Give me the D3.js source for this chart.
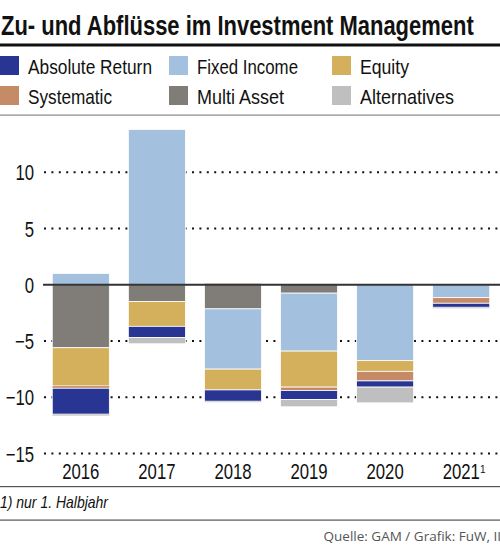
<!DOCTYPE html>
<html><head><meta charset="utf-8">
<script src="https://cdn.jsdelivr.net/npm/d3@7"></script>
<style>
body{margin:0;background:#fff;}
svg{display:block;}
</style></head>
<body><svg id="c" width="500" height="545"></svg>
<script>
const years = ["2016","2017","2018","2019","2020","2021"];
const seriesNames = ["Absolute Return","Fixed Income","Equity","Systematic","Multi Asset","Alternatives"];
const absoluteReturn = [-2.3, -1.0, -1.0, -0.8, -0.55, -0.35];
const fixedIncome   = [1.0, 13.8, -5.35, -5.15, -6.75, -1.15];
const equity        = [-3.4, -2.2, -1.85, -3.2, -0.95, 0];
const systematic    = [-0.2, 0, 0.1, -0.3, -0.85, -0.5];
const multiAsset    = [-5.6, -1.5, -2.15, -0.75, 0, 0];
const alternatives  = [-0.15, -0.55, -0.1, -0.65, -1.4, -0.1];
const yTicks = [-15, -10, -5, 0, 5, 10];
const colors = {"Absolute Return":"#283593","Fixed Income":"#a3c0de","Equity":"#d5b05c","Systematic":"#c58b67","Multi Asset":"#807d79","Alternatives":"#c0bfc0"};
const stackOrder = ["Multi Asset","Fixed Income","Equity","Systematic","Absolute Return","Alternatives"];

const valuesBy = {"Absolute Return":absoluteReturn,"Fixed Income":fixedIncome,"Equity":equity,"Systematic":systematic,"Multi Asset":multiAsset,"Alternatives":alternatives};
const table = years.map((y,i)=>{const o={year:y}; seriesNames.forEach(s=>o[s]=valuesBy[s][i]); return o;});

const svg = d3.select("#c");
const F = "'Liberation Sans',Arial,sans-serif";

function fit(sel, w){ sel.attr("textLength",w).attr("lengthAdjust","spacingAndGlyphs"); return sel; }

// title (horizontally scaled to the condensed width of the original)
const tg = svg.append("g");
const title = tg.append("text").attr("x",0).attr("y",35).attr("font-family",F)
  .attr("font-size",28).attr("font-weight","bold").attr("fill","#111")
  .text("Zu- und Abflüsse im Investment Management");
const tL = title.node().getComputedTextLength();
tg.attr("transform",`translate(1,0) scale(${473/tL},1)`);

svg.append("rect").attr("x",0).attr("y",43.5).attr("width",500).attr("height",3).attr("fill","#111");
svg.append("rect").attr("x",0).attr("y",114.5).attr("width",500).attr("height",1.2).attr("fill","#888");

// legend
const legendPos = [[0,56],[169,56],[332,56],[0,86],[169,86],[332,86]];
const legendWidths = [124,101,49,84,87,94];
seriesNames.forEach((s,i)=>{
  const [lx,ly]=legendPos[i];
  svg.append("rect").attr("x",lx).attr("y",ly).attr("width",19).attr("height",19).attr("fill",colors[s]);
  fit(svg.append("text").attr("x",lx+28).attr("y",ly+18).attr("font-family",F)
    .attr("font-size",21).attr("fill","#111").text(s), legendWidths[i]);
});

// scales
const x = d3.scaleBand().domain(years).range([42,500]).paddingInner(0.25).paddingOuter(0.135);
const y = d3.scaleLinear().domain([-15,15]).range([453.5,115.9]);

// grid
const grid = svg.append("g");
yTicks.filter(t=>t!==0).forEach(t=>{
  grid.append("line").attr("x1",44).attr("x2",500).attr("y1",y(t)).attr("y2",y(t))
    .attr("stroke","#111").attr("stroke-width",2).attr("stroke-dasharray","2,5.4");
});

// y axis labels
const yAxis = d3.axisLeft(y).tickValues(yTicks).tickSize(0).tickPadding(0)
  .tickFormat(d=>d<0?"\u2212"+Math.abs(d):String(d));
const ya = svg.append("g").attr("transform","translate(34,0)").call(yAxis);
ya.select(".domain").remove();
ya.selectAll("text").attr("font-family",F).attr("font-size",22).attr("fill","#111").attr("dy","0.35em")
  .attr("transform","scale(0.76,1)");

// stack
const stack = d3.stack().keys(stackOrder).offset(d3.stackOffsetDiverging);
const layers = stack(table);
svg.append("g").selectAll("g").data(layers).join("g").attr("fill",d=>colors[d.key])
  .selectAll("rect").data(d=>d).join("rect")
  .attr("x",d=>x(d.data.year)).attr("width",x.bandwidth())
  .attr("y",d=>y(Math.max(d[0],d[1]))).attr("height",d=>Math.abs(y(d[0])-y(d[1])))
  .attr("stroke","#fff").attr("stroke-width",d=>Math.abs(d[1]-d[0])>0.2?0.8:0.3);

// zero line
svg.append("line").attr("x1",43).attr("x2",500).attr("y1",y(0)).attr("y2",y(0)).attr("stroke","#333").attr("stroke-width",2);

// x labels
const xAxis = d3.axisBottom(x).tickSize(0).tickPadding(0);
const xa = svg.append("g").attr("transform","translate(0,463)").call(xAxis);
xa.select(".domain").remove();
xa.selectAll("text").attr("font-family",F).attr("font-size",22).attr("fill","#111").attr("dy","0.71em")
  .attr("transform","scale(0.76,1)");
xa.selectAll(".tick").filter(d=>d==="2021").append("text")
  .attr("x",21.5).attr("y",10).attr("font-family",F).attr("font-size",10).attr("fill","#111").text("1");

svg.append("rect").attr("x",0).attr("y",486).attr("width",500).attr("height",1.2).attr("fill","#555");
fit(svg.append("text").attr("x",0).attr("y",508).attr("font-family",F).attr("font-size",17).attr("font-style","italic").attr("fill","#111").text("1) nur 1. Halbjahr"), 108);
svg.append("rect").attr("x",0).attr("y",519.5).attr("width",500).attr("height",1.2).attr("fill","#555");
svg.append("text").attr("x",501).attr("y",541).attr("text-anchor","end").attr("font-family","'Open Sans',sans-serif").attr("font-size",13.5).attr("fill","#555").text("Quelle: GAM / Grafik: FuW, II");
</script></body></html>
